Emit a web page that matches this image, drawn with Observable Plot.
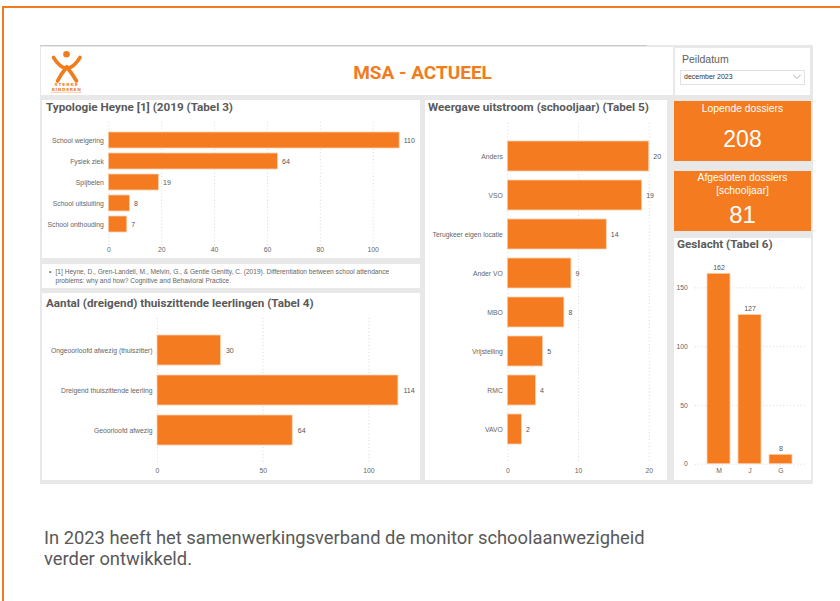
<!DOCTYPE html>
<html>
<head>
<meta charset="utf-8">
<script src="https://cdn.jsdelivr.net/npm/d3@7"></script>
<script src="https://cdn.jsdelivr.net/npm/@observablehq/plot@0.6"></script>
<style>
  html, body { margin: 0; padding: 0; background: #fff; }
  body { width: 840px; height: 601px; position: relative; overflow: hidden; font-family: "Liberation Sans", Arial, sans-serif; }
  .abs { position: absolute; }
  .panel { position: absolute; background: #fff; }
  .title { position: absolute; font-family: Roboto, "Liberation Sans", sans-serif; font-weight: 700; color: #5a5a5a; white-space: nowrap; line-height: 1; }
  .chart { position: absolute; }
  .chart svg { overflow: visible; }
</style>
</head>
<body>
<!-- orange frame -->
<div class="abs" style="left:2px;top:6px;width:838px;height:2px;background:#f07c1e"></div>
<div class="abs" style="left:2px;top:6px;width:2px;height:595px;background:#f07c1e"></div>

<!-- dashboard background -->
<div class="abs" style="left:40px;top:45px;width:773px;height:439px;background:#e8e8e8"></div>
<div class="abs" style="left:40px;top:45px;width:607px;height:1px;background:#c9c9c9"></div>

<!-- header -->
<div class="panel" style="left:41px;top:47px;width:632px;height:48px"></div>
<svg class="abs" style="left:45px;top:48px" width="45" height="48" viewBox="45 48 45 48">
  <circle cx="66.5" cy="54.3" r="3.3" fill="#f07c1e"/>
  <path d="M53.5,57.5 Q60,68 66.8,68.5 Q73.5,68 80,57.5" fill="none" stroke="#f07c1e" stroke-width="3.6" stroke-linecap="round"/>
  <path d="M66.8,67 Q61,74 57.5,81" fill="none" stroke="#f07c1e" stroke-width="3.6" stroke-linecap="round"/>
  <path d="M66.8,67 Q72.5,74 76.5,81" fill="none" stroke="#f07c1e" stroke-width="3.6" stroke-linecap="round"/>
  <text x="66.5" y="86" text-anchor="middle" font-family="DejaVu Sans" font-weight="bold" font-size="4.3" letter-spacing="0.9" fill="#f07c1e">STERKE</text>
  <text x="66.5" y="90.6" text-anchor="middle" font-family="DejaVu Sans" font-weight="bold" font-size="4.3" letter-spacing="0.6" fill="#f07c1e">KINDEREN</text>
  <rect x="51" y="91.8" width="31" height="0.7" fill="#f5b27a"/>
</svg>
<div class="abs" style="left:300px;top:63px;width:245px;text-align:center;font-family:Roboto,'Liberation Sans',sans-serif;font-weight:700;font-size:19px;line-height:20px;color:#f07c1e">MSA - ACTUEEL</div>

<!-- Peildatum -->
<div class="panel" style="left:675px;top:48px;width:135px;height:47px"></div>
<div class="abs" style="left:682px;top:54px;font-size:10.5px;line-height:11px;color:#605e5c">Peildatum</div>
<div class="abs" style="left:680px;top:70px;width:123px;height:13px;border:1px solid #e2e2e2;background:#fff"></div>
<div class="abs" style="left:684px;top:73px;font-size:7px;line-height:8px;color:#333">december 2023</div>
<svg class="abs" style="left:793px;top:74px" width="8" height="6"><polyline points="0.5,1 4,4.5 7.5,1" fill="none" stroke="#999" stroke-width="0.8"/></svg>

<!-- KPI cards -->
<div class="abs" style="left:674px;top:101px;width:137px;height:60px;background:#f47b20"></div>
<div class="abs" style="left:674px;top:103px;width:137px;text-align:center;font-size:10.3px;line-height:11px;color:#fff" id="k1l"></div>
<div class="abs" style="left:674px;top:126px;width:137px;text-align:center;font-size:23px;line-height:26px;color:#fff" id="k1v"></div>
<div class="abs" style="left:674px;top:171px;width:137px;height:60px;background:#f47b20"></div>
<div class="abs" style="left:674px;top:172px;width:137px;text-align:center;font-size:10.3px;line-height:12.5px;color:#fff" id="k2l"></div>
<div class="abs" style="left:674px;top:202px;width:137px;text-align:center;font-size:24px;line-height:26px;color:#fff" id="k2v"></div>

<!-- panels -->
<div class="panel" style="left:42px;top:100px;width:378px;height:158px"></div>
<div class="panel" style="left:42px;top:264px;width:378px;height:24px"></div>
<div class="panel" style="left:42px;top:293px;width:378px;height:187px"></div>
<div class="panel" style="left:425px;top:100px;width:242px;height:380px"></div>
<div class="panel" style="left:674px;top:238px;width:137px;height:242px"></div>

<div class="title" style="left:46px;top:101.5px;font-size:11.7px">Typologie Heyne [1] (2019 (Tabel 3)</div>
<div class="title" style="left:46px;top:298px;font-size:11.7px">Aantal (dreigend) thuiszittende leerlingen (Tabel 4)</div>
<div class="title" style="left:428px;top:102px;font-size:11.7px">Weergave uitstroom (schooljaar) (Tabel 5)</div>
<div class="title" style="left:677px;top:239px;font-size:11.7px">Geslacht (Tabel 6)</div>

<div class="abs" style="left:49px;top:268px;width:365px;font-size:6.6px;line-height:8.6px;color:#666;white-space:nowrap">
  <span style="position:absolute;left:0;top:0">•</span>
  <div style="padding-left:6.5px">[1] Heyne, D., Gren-Landell, M., Melvin, G., &amp; Gentle Genitty, C. (2019). Differentiation between school attendance<br>problems: why and how? Cognitive and Behavioral Practice.</div>
</div>

<div class="chart" id="c1" style="left:42px;top:112px"></div>
<div class="chart" id="c2" style="left:42px;top:310px"></div>
<div class="chart" id="c3" style="left:425px;top:115px"></div>
<div class="chart" id="c4" style="left:674px;top:252px"></div>

<div class="abs" style="left:44px;top:527px;font-family:Roboto,'Liberation Sans',sans-serif;font-size:18.35px;line-height:21px;color:#595959;white-space:nowrap">In 2023 heeft het samenwerkingsverband de monitor schoolaanwezigheid<br>verder ontwikkeld.</div>

<script>
// ---------- data ----------
const typCats = ["School weigering", "Fysiek ziek", "Spijbelen", "School uitsluiting", "School onthouding"];
const typVals = [110, 64, 19, 8, 7];
const typTicks = [0, 20, 40, 60, 80, 100];

const thuisCats = ["Ongeoorloofd afwezig (thuiszitter)", "Dreigend thuiszittende leerling", "Geoorloofd afwezig"];
const thuisVals = [30, 114, 64];
const thuisTicks = [0, 50, 100];

const uitCats = ["Anders", "VSO", "Terugkeer eigen locatie", "Ander VO", "MBO", "Vrijstelling", "RMC", "VAVO"];
const uitVals = [20, 19, 14, 9, 8, 5, 4, 2];
const uitTicks = [0, 10, 20];

const gesCats = ["M", "J", "G"];
const gesVals = [162, 127, 8];
const gesTicks = [0, 50, 100, 150];

const kpiLabels = ["Lopende dossiers", "Afgesloten dossiers<br>[schooljaar]"];
const kpiValues = [208, 81];

document.getElementById("k1l").innerHTML = kpiLabels[0];
document.getElementById("k1v").textContent = kpiValues[0];
document.getElementById("k2l").innerHTML = kpiLabels[1];
document.getElementById("k2v").textContent = kpiValues[1];

const ORANGE = "#f47b20";
const BORDER = "#fcd3b0";
const GRID = "#c4c4c4";
const style = {fontFamily: "'Liberation Sans', Arial, sans-serif", fontSize: "6.8px", color: "#666", background: "transparent", overflow: "visible"};

function hbar(cats, vals, ticks, o) {
  const data = cats.map((c, i) => ({cat: c, value: vals[i]}));
  return Plot.plot({
    width: o.width, height: o.height,
    marginLeft: o.ml, marginRight: o.mr, marginTop: o.mt, marginBottom: o.mb,
    style,
    x: {domain: o.xdomain, ticks, tickSize: 0, tickPadding: o.tp, label: null},
    y: {domain: cats, range: o.yrange, padding: o.pad, tickSize: 0, tickPadding: 5, label: null},
    marks: [
      Plot.gridX(ticks, {stroke: GRID, strokeOpacity: 1, strokeDasharray: "0.8,2.6", strokeWidth: 0.8}),
      Plot.barX(data, {x: "value", y: "cat", fill: ORANGE, stroke: BORDER, strokeWidth: 0.8}),
      Plot.text(data, {x: "value", y: "cat", text: d => String(d.value), textAnchor: "start", dx: o.dx, fill: "#555", fontSize: 7})
    ]
  });
}

document.getElementById("c1").append(hbar(typCats, typVals, typTicks, {
  width: 378, height: 147, ml: 66.3, mr: 7.6, mt: 9.7, mb: 14, tp: 2,
  xdomain: [0, 115], yrange: [13.4, 126.6], pad: 0.23, dx: 4
}));

document.getElementById("c2").append(hbar(thuisCats, thuisVals, thuisTicks, {
  width: 378, height: 170, ml: 115, mr: 9.4, mt: 8, mb: 17, tp: 4.5,
  xdomain: [0, 120], yrange: [13.8, 146.3], pad: 0.255, dx: 5
}));

document.getElementById("c3").append(hbar(uitCats, uitVals, uitTicks, {
  width: 241, height: 365, ml: 82.3, mr: 3.1, mt: 8, mb: 18.3, tp: 6,
  xdomain: [0, 22], yrange: [14, 340.3], pad: 0.226, dx: 4
}));

const gesData = gesCats.map((c, i) => ({cat: c, value: gesVals[i]}));
document.getElementById("c4").append(Plot.plot({
  width: 137, height: 228,
  marginLeft: 21, marginRight: 4.3, marginTop: 11.9, marginBottom: 16.3,
  style,
  x: {domain: gesCats, range: [24.2, 127.4], padding: 0.245, tickSize: 0, tickPadding: 4, label: null},
  y: {domain: [0, 170], ticks: gesTicks, tickSize: 0, tickPadding: 7.7, label: null},
  marks: [
    Plot.gridY(gesTicks, {stroke: GRID, strokeOpacity: 1, strokeDasharray: "0.8,2.6", strokeWidth: 0.8}),
    Plot.barY(gesData, {x: "cat", y: "value", fill: ORANGE, stroke: BORDER, strokeWidth: 0.8}),
    Plot.text(gesData, {x: "cat", y: "value", text: d => String(d.value), lineAnchor: "bottom", dy: -4, fill: "#555", fontSize: 7})
  ]
}));
</script>
</body>
</html>
